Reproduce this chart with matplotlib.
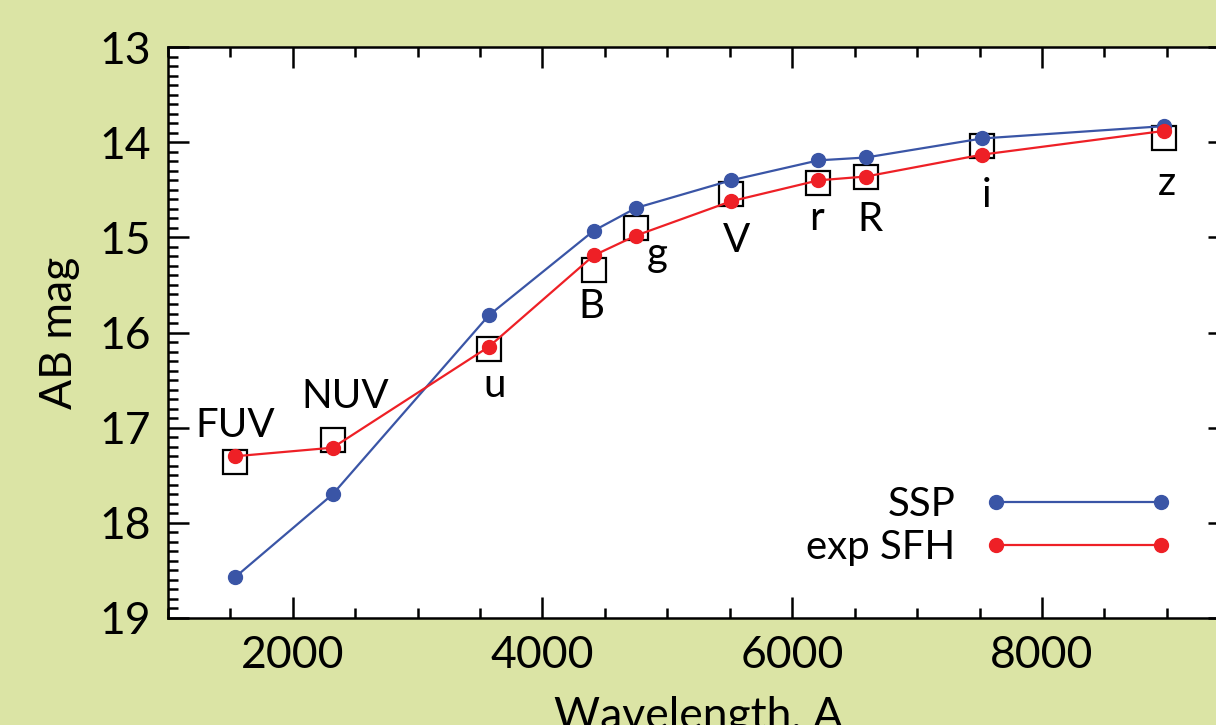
import numpy as np
import matplotlib
matplotlib.use('Agg')
import matplotlib.pyplot as plt
from matplotlib.ticker import MultipleLocator

# -----------------------------
# DATA
# -----------------------------
bands = ['FUV', 'NUV', 'u', 'B', 'g', 'V', 'r', 'R', 'i', 'z']
wavelength = [1540, 2320, 3570, 4410, 4750, 5510, 6210, 6590, 7520, 8980]
ssp_mag = [18.57, 17.70, 15.82, 14.93, 14.69, 14.40, 14.19, 14.16, 13.96, 13.83]
exp_sfh_mag = [17.30, 17.21, 16.15, 15.19, 14.98, 14.62, 14.40, 14.36, 14.13, 13.88]
obs_mag = [17.36, 17.13, 16.17, 15.34, 14.90, 14.54, 14.43, 14.36, 14.04, 13.96]

# label offsets from the observed square, in pixels
label_dx = [0, 13, 6, -2, 21, 5, -2, 4, 4, 3]
label_dy = [25, 32, -48, -48, -38, -58, -47, -54, -61, -57]

# -----------------------------
# STYLE
# -----------------------------
bg = '#dbe4a5'
blue = '#3a55a6'
red = '#ee2026'
plt.rcParams['font.family'] = ['Lato', 'DejaVu Sans']

fig = plt.figure(figsize=(12.16, 7.25), dpi=100, facecolor=bg)
ax = fig.add_axes([0.138, 0.1476, 0.873, 0.7874])
ax.set_facecolor('white')

ax.plot(wavelength, ssp_mag, '-o', color=blue, lw=1.6, ms=10, label='SSP', zorder=3)
ax.plot(wavelength, exp_sfh_mag, '-o', color=red, lw=1.6, ms=10, label='exp SFH', zorder=4)
ax.plot(wavelength, obs_mag, 's', mfc='none', mec='black', mew=1.6, ms=17, zorder=2)

for b, x, y, dx, dy in zip(bands, wavelength, obs_mag, label_dx, label_dy):
    ax.annotate(b, (x, y), xytext=(dx, dy), textcoords='offset pixels',
                ha='center', va='baseline', fontsize=29)

ax.set_xlim(1000, 9500)
ax.set_ylim(19, 13)

ax.xaxis.set_major_locator(MultipleLocator(2000))
ax.xaxis.set_minor_locator(MultipleLocator(500))
ax.yaxis.set_major_locator(MultipleLocator(1))
ax.yaxis.set_minor_locator(MultipleLocator(0.1))
ax.tick_params(which='both', direction='in', top=True, right=True, width=1.8,
               labelsize=32, pad=12)
ax.tick_params(which='major', length=15)
ax.tick_params(which='minor', length=7)
for s in ax.spines.values():
    s.set_linewidth(1.8)

ax.set_xlabel('Wavelength, A', fontsize=32, labelpad=15)
ax.set_ylabel('AB mag', fontsize=32, labelpad=14)

leg = ax.legend(loc='lower right', bbox_to_anchor=(0.981, 0.027), frameon=False,
                markerfirst=False, numpoints=2, handlelength=4.7, handletextpad=0.7,
                labelspacing=0.15, fontsize=29)

fig.savefig('out.png', dpi=100, facecolor=bg)
